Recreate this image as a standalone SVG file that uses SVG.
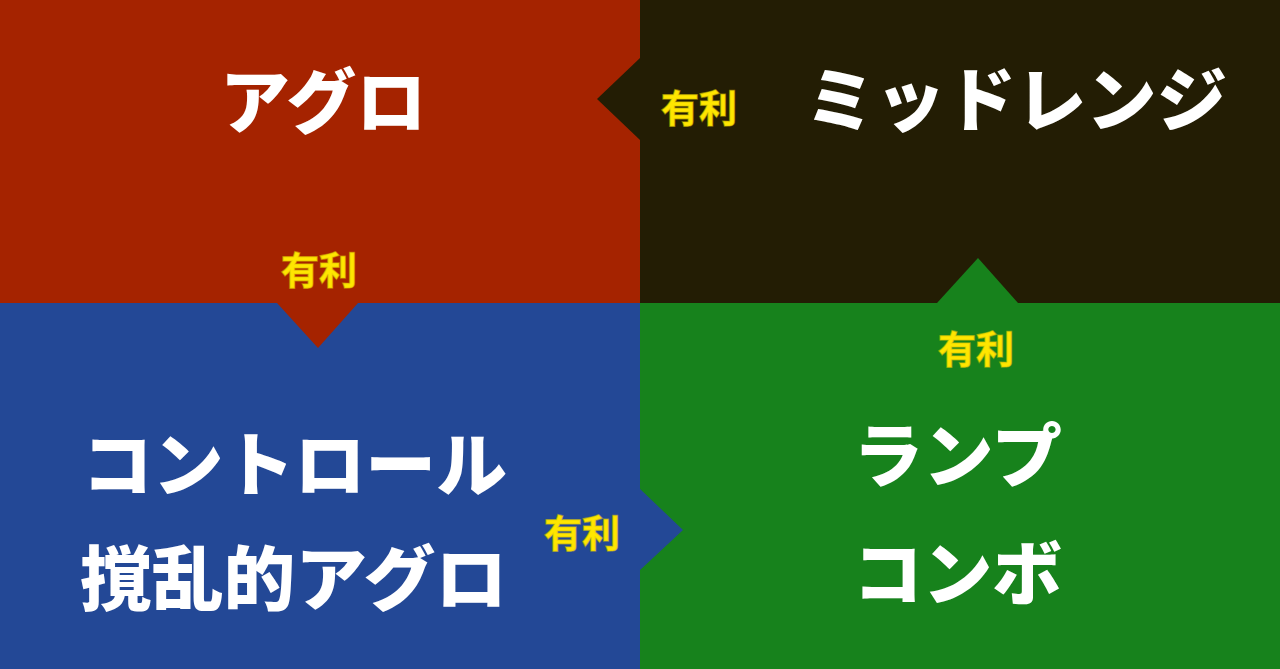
<svg xmlns="http://www.w3.org/2000/svg" width="1280" height="669" viewBox="0 0 1280 669">
<style>
.big{font-family:"Noto Sans CJK JP","Noto Sans CJK SC",sans-serif;font-weight:900;font-size:70px;fill:#ffffff;dominant-baseline:central}
.adv{font-family:"Noto Sans CJK JP","Noto Sans CJK SC",sans-serif;font-weight:700;font-size:38px;fill:#ffe600;stroke:#e0c800;stroke-opacity:0.5;stroke-width:1.5px;dominant-baseline:central;text-anchor:middle}
</style>
<g id="aggro">
<rect x="0" y="0" width="640" height="303" fill="#a52300"/>
<text class="big" x="220" y="97" textLength="206" lengthAdjust="spacingAndGlyphs">アグロ</text>
</g>
<g id="midrange">
<rect x="640" y="0" width="640" height="303" fill="#231d04"/>
<text class="big" x="805" y="95" textLength="422" lengthAdjust="spacingAndGlyphs">ミッドレンジ</text>
</g>
<g id="control">
<rect x="0" y="303" width="640" height="366" fill="#234896"/>
<text class="big" x="82" y="460" textLength="425" lengthAdjust="spacingAndGlyphs">コントロール</text>
<text class="big" x="80" y="574" textLength="427" lengthAdjust="spacingAndGlyphs">撹乱的アグロ</text>
</g>
<g id="ramp">
<rect x="640" y="303" width="640" height="366" fill="#17821c"/>
<text class="big" x="853" y="451" textLength="209" lengthAdjust="spacingAndGlyphs">ランプ</text>
<text class="big" x="853" y="569" textLength="209" lengthAdjust="spacingAndGlyphs">コンボ</text>
</g>
<g id="connectors">
<polygon points="640,58 597,99 640,140" fill="#231d04"/>
<polygon points="277,303 318,348 358,303" fill="#a52300"/>
<polygon points="937,303 978,258 1018,303" fill="#17821c"/>
<polygon points="639,488 683,530 639,571" fill="#234896"/>
<text class="adv" x="699" y="105">有利</text>
<text class="adv" x="319" y="267">有利</text>
<text class="adv" x="976" y="346">有利</text>
<text class="adv" x="582" y="530">有利</text>
</g>
</svg>
